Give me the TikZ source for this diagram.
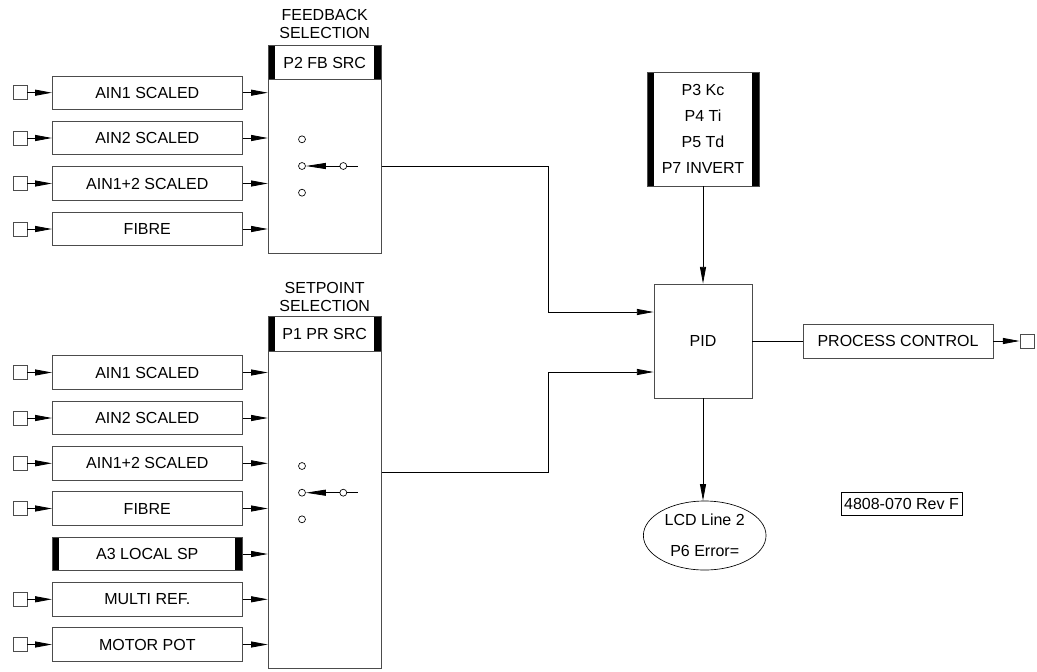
\documentclass[tikz,border=0pt]{standalone}
\usepackage{fontspec}
\setmainfont{Liberation Sans}
\usetikzlibrary{arrows.meta,positioning,shapes.geometric}

\begin{document}
\begin{tikzpicture}[x=0.75pt,y=-0.75pt, every node/.style={font=\fontsize{12}{13.5}\selectfont,align=center,inner sep=0pt},
 box/.style={draw=black!70,line width=0.6pt,minimum width=142.5pt,minimum height=25pt},
 bars/.style={box,path picture={\fill ([xshift=5.25pt]path picture bounding box.south west) rectangle (path picture bounding box.north west);
   \fill ([xshift=-5.25pt]path picture bounding box.south east) rectangle (path picture bounding box.north east);}},
 sq/.style={draw=black!70,line width=0.6pt,minimum size=10.5pt},
 dot/.style={circle,draw,line width=0.5pt,minimum size=5.2pt},
 arr/.style={line width=0.6pt,-{Triangle[length=12.5pt,width=4.5pt]}},
 wedge/.style={line width=0.6pt,-{Triangle[length=15pt,width=4.5pt]}},
 wire/.style={line width=0.6pt}]
\useasboundingbox (0,0) rectangle (1037,671);
% feedback selection
\node (fbtitle) at (324.7,24.2) {FEEDBACK\\SELECTION};
\node[bars,minimum width=84.75pt,minimum height=25.2pt] (fbsrc) at (324.7,62.5) {P2 FB SRC};
\node[box,minimum width=84.75pt,minimum height=130.3pt] (fbsel) at (324.7,166.2) {};
\node[box] (fb1) at (147.3,92.7) {AIN1 SCALED};   \node[sq] (fbi1) at (20,92.7) {};
\node[box] (fb2) at (147.3,138) {AIN2 SCALED};    \node[sq] (fbi2) at (20,138) {};
\node[box] (fb3) at (147.3,183.5) {AIN1+2 SCALED}; \node[sq] (fbi3) at (20,183.5) {};
\node[box] (fb4) at (147.3,229) {FIBRE};          \node[sq] (fbi4) at (20,229) {};
\draw[arr] (fbi1) -- (fb1); \draw[arr] (fbi2) -- (fb2); \draw[arr] (fbi3) -- (fb3); \draw[arr] (fbi4) -- (fb4);
\draw[arr] (fb1) -- (fb1 -| fbsel.west); \draw[arr] (fb2) -- (fb2 -| fbsel.west);
\draw[arr] (fb3) -- (fb3 -| fbsel.west); \draw[arr] (fb4) -- (fb4 -| fbsel.west);
\node[dot] (fbd1) at (302,139.3) {}; \node[dot] (fbd2) at (302,166) {}; \node[dot] (fbd3) at (302,192.7) {};
\node[dot] (fbd4) at (343.3,166) {}; \coordinate (fbarm) at (358,166);
\draw[wedge] (fbd4) -- (fbd2); \draw[wire] (fbd4) -- (fbarm);
% setpoint selection
\node (sptitle) at (324.7,296.7) {SETPOINT\\SELECTION};
\node[bars,minimum width=84.75pt,minimum height=25.7pt] (spsrc) at (324.7,333.8) {P1 PR SRC};
\node[box,minimum width=84.75pt,minimum height=237.75pt] (spsel) at (324.7,509.5) {};
\node[box] (sp1) at (147.3,372.5) {AIN1 SCALED};   \node[sq] (spi1) at (20,372.5) {};
\node[box] (sp2) at (147.3,418) {AIN2 SCALED};     \node[sq] (spi2) at (20,418) {};
\node[box] (sp3) at (147.3,463.3) {AIN1+2 SCALED}; \node[sq] (spi3) at (20,463.3) {};
\node[box] (sp4) at (147.3,508.5) {FIBRE};         \node[sq] (spi4) at (20,508.5) {};
\node[bars] (sp5) at (147.3,554) {A3 LOCAL SP};
\node[box] (sp6) at (147.3,599.3) {MULTI REF.};    \node[sq] (spi6) at (20,599.3) {};
\node[box] (sp7) at (147.3,644.5) {MOTOR POT};     \node[sq] (spi7) at (20,644.5) {};
\draw[arr] (spi1) -- (sp1); \draw[arr] (spi2) -- (sp2); \draw[arr] (spi3) -- (sp3); \draw[arr] (spi4) -- (sp4);
\draw[arr] (spi6) -- (sp6); \draw[arr] (spi7) -- (sp7);
\draw[arr] (sp1) -- (sp1 -| spsel.west); \draw[arr] (sp2) -- (sp2 -| spsel.west); \draw[arr] (sp3) -- (sp3 -| spsel.west);
\draw[arr] (sp4) -- (sp4 -| spsel.west); \draw[arr] (sp5) -- (sp5 -| spsel.west); \draw[arr] (sp6) -- (sp6 -| spsel.west);
\draw[arr] (sp7) -- (sp7 -| spsel.west);
\node[dot] (spd1) at (302,466) {}; \node[dot] (spd2) at (302,492.7) {}; \node[dot] (spd3) at (302,519.3) {};
\node[dot] (spd4) at (343.3,492.7) {}; \coordinate (sparm) at (358,492.7);
\draw[wedge] (spd4) -- (spd2); \draw[wire] (spd4) -- (sparm);
% controller
\node[bars,minimum width=84pt,minimum height=85.5pt,font=\fontsize{12}{19.3}\selectfont] (pars) at (703,129) {P3 Kc\\P4 Ti\\P5 Td\\P7 INVERT};
\node[box,minimum width=73.5pt,minimum height=85.5pt] (pid) at (703,341) {PID};
\node[box,minimum height=25.5pt] (pc) at (898,341) {PROCESS CONTROL};
\node[sq] (pco) at (1027,341) {};
\node[ellipse,draw,line width=0.5pt,minimum width=92pt,minimum height=51.75pt,font=\fontsize{12}{23}\selectfont] (lcd) at (704.7,535.5) {LCD Line 2\\P6 Error=};
\node[draw,line width=0.5pt,minimum width=90.75pt,minimum height=17.25pt] (rev) at (901.5,503.6) {4808-070 Rev F};
\draw[arr] (fbsel.east) -- ++(167,0) |- ([yshift=21.75pt]pid.west);
\draw[arr] ([yshift=27.9pt]spsel.east) -- ++(167,0) |- ([yshift=-23.25pt]pid.west);
\draw[arr] (pars) -- (pid); \draw[wire] (pid) -- (pc); \draw[arr] (pc) -- (pco);
\draw[arr] (pid) -- (pid |- lcd.north);
\end{tikzpicture}
\end{document}
